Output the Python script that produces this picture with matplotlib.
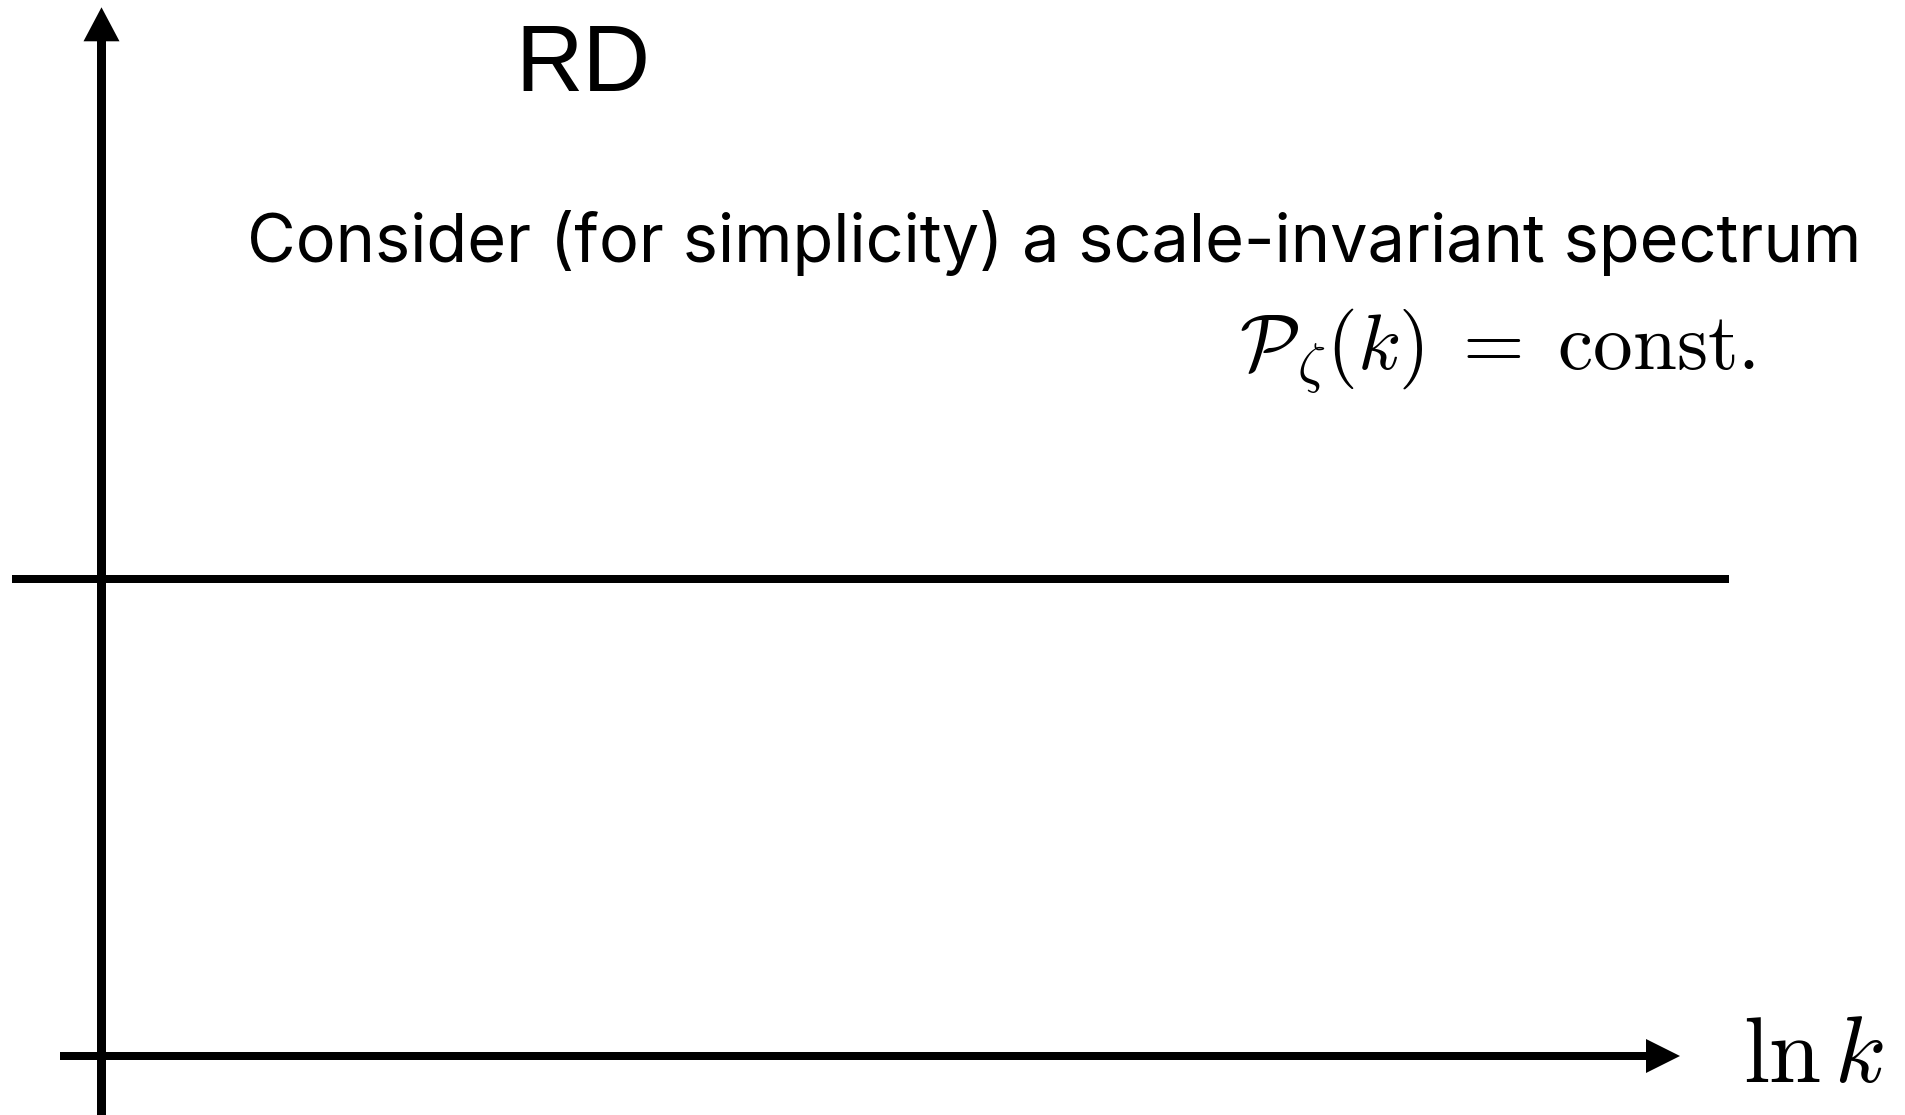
import matplotlib
matplotlib.use('Agg')
import matplotlib.pyplot as plt

# flat spectrum in the (ln k, P) plane, arbitrary units with the origin at the axis crossing
lnk = [-89.5, 1627.5]
P_zeta = [477, 477]

x_axis_span = [-41.5, 1578.5]
y_axis_span = [-80, 1048.7]

plt.rcParams['mathtext.fontset'] = 'cm'

fig = plt.figure(figsize=(19.06, 11.15), dpi=100)
ax = fig.add_axes([0, 0, 1, 1])
ax.set_xlim(-101.5, 1804.5)
ax.set_ylim(-59, 1056)
ax.axis('off')

# axes arrows
ax.arrow(0, y_axis_span[0], 0, y_axis_span[1] - y_axis_span[0], width=9,
         head_width=36, head_length=34, length_includes_head=True,
         fc='k', ec='none')
ax.arrow(x_axis_span[0], 0, x_axis_span[1] - x_axis_span[0], 0, width=8,
         head_width=34, head_length=34, length_includes_head=True,
         fc='k', ec='none')

# the spectrum
ax.plot(lnk, P_zeta, color='k', lw=8 * 72 / 100, solid_capstyle='butt')

ax.text(414, 965.3, 'RD', family=['Liberation Sans', 'DejaVu Sans'],
        fontsize=67.4, ha='left', va='baseline')
ax.text(145.5, 794, 'Consider (for simplicity) a scale-invariant spectrum',
        family=['Inter', 'Liberation Sans', 'DejaVu Sans'], fontsize=48,
        ha='left', va='baseline')
ax.text(1137.5, 686, r'$\mathcal{P}_\zeta(k)\;=\;\mathrm{const.}$',
        fontsize=57, ha='left', va='baseline')
ax.text(1641.5, -26, r'$\ln k$', fontsize=67.5, ha='left', va='baseline')

fig.savefig('out.png', dpi=100)
